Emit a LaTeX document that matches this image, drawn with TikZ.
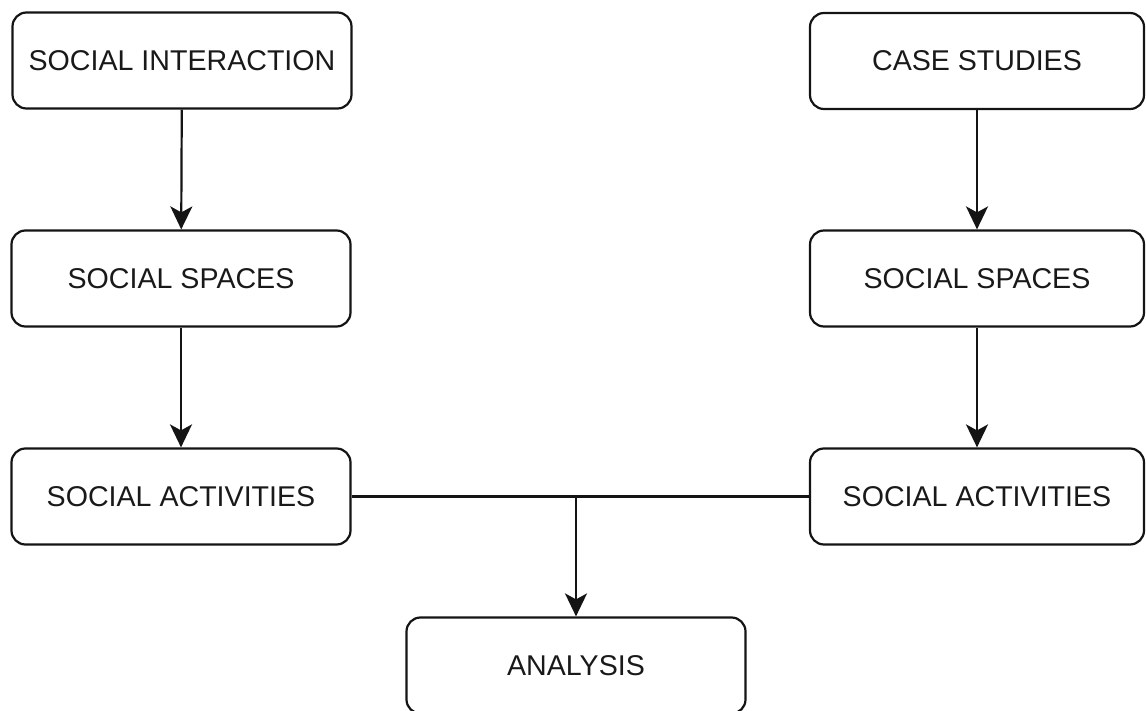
\documentclass[tikz,border=0pt]{standalone}
\usepackage{fontspec}
\setmainfont{Liberation Sans}
\usetikzlibrary{arrows.meta}
\begin{document}
\begin{tikzpicture}[x=1pt,y=-1pt,
  stagebox/.style={draw=black!92, line width=2.2pt, rounded corners=14pt,
    minimum width=339pt, minimum height=96pt, inner sep=0pt,
    font=\fontsize{28.6}{31}\selectfont, text=black!90},
  flow/.style={draw=black!92, line width=2.2pt,
    -{Stealth[length=23pt,width=22pt,inset=6pt]}},
  link/.style={draw=black!92, line width=2.2pt}]
\useasboundingbox (0,0) rectangle (1146,711);
% left column
\node[stagebox] (si)  at (182,60.5)  {SOCIAL INTERACTION};
\node[stagebox] (ss1) at (181,278.5) {SOCIAL SPACES};
\node[stagebox] (sa1) at (181,496.5) {SOCIAL ACTIVITIES};
% right column
\node[stagebox, minimum width=334pt] (cs)  at (977,61)    {CASE STUDIES};
\node[stagebox, minimum width=334pt] (ss2) at (977,278.5) {SOCIAL SPACES};
\node[stagebox, minimum width=334pt] (sa2) at (977,496.5) {SOCIAL ACTIVITIES};
% merged result
\node[stagebox] (an) at (576,665.5) {ANALYSIS};
% connectors
\draw[flow] (si) -- (ss1);
\draw[flow] (ss1) -- (sa1);
\draw[flow] (cs) -- (ss2);
\draw[flow] (ss2) -- (sa2);
\draw[link] (sa1.east) -- (sa2.west);
\draw[flow] (sa1.east -| an.north) -- (an.north);
\end{tikzpicture}
\end{document}
